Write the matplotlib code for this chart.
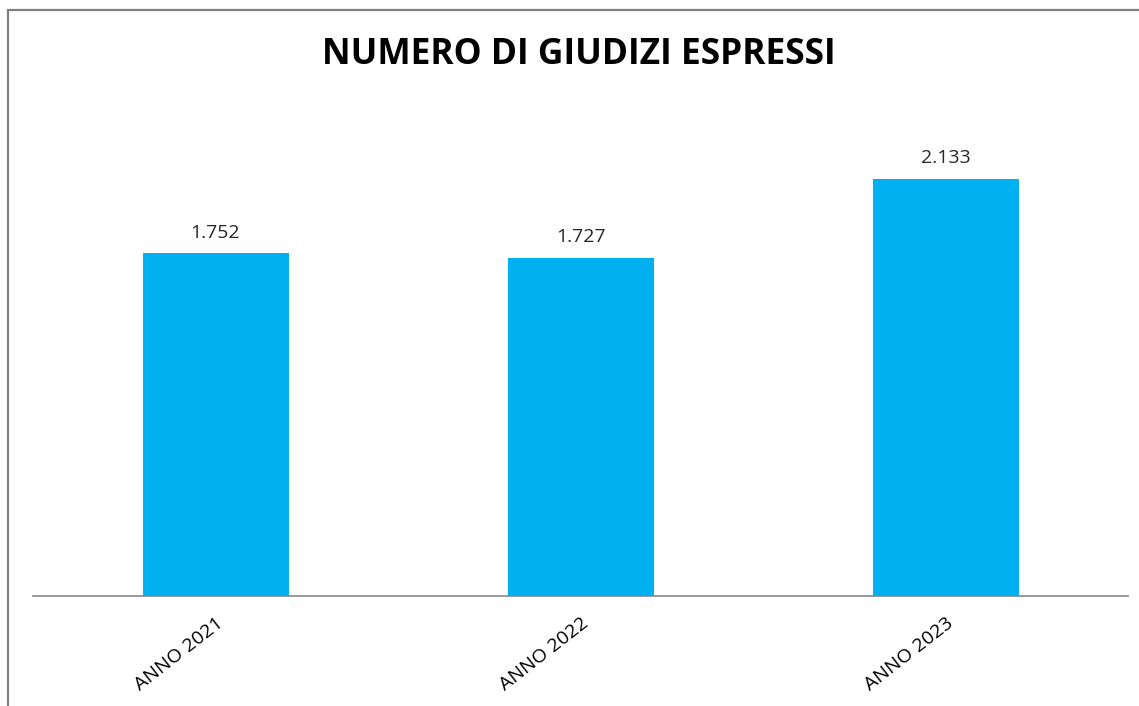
import matplotlib.pyplot as plt
from matplotlib.patches import Rectangle

anni = ['ANNO 2021', 'ANNO 2022', 'ANNO 2023']
giudizi = [1752, 1727, 2133]
etichette = ['1.752', '1.727', '2.133']

plt.rcParams['font.family'] = ['Open Sans', 'DejaVu Sans']

fig = plt.figure(figsize=(11.39, 7.06), dpi=100)
ax = fig.add_axes([33 / 1139, 110 / 706, 1095 / 1139, 489 / 706])

x = range(len(anni))
bars = ax.bar(x, giudizi, width=0.4, color='#00B0F0')
ax.set_xlim(-0.5, 2.5)
ax.set_ylim(0, 2500)

for b, t in zip(bars, etichette):
    ax.text(b.get_x() + b.get_width() / 2, b.get_height() + 60, t,
            ha='center', va='bottom', fontsize=14, color='#262626')

ax.set_xticks(list(x))
ax.set_xticklabels(anni, rotation=38, ha='right', rotation_mode='anchor',
                   fontsize=14)
ax.tick_params(axis='x', length=0, pad=13)
ax.set_yticks([])
for s in ['left', 'right', 'top']:
    ax.spines[s].set_visible(False)
ax.spines['bottom'].set_color('#868686')
ax.spines['bottom'].set_linewidth(1.2)

fig.text(579 / 1139, 1 - 55 / 706, 'NUMERO DI GIUDIZI ESPRESSI',
         ha='center', va='center', fontsize=25.5, fontweight='bold')

# cornice del grafico
fig.patches.append(Rectangle((8 / 1139, -0.1), 1.1, 1 - 10 / 706 + 0.1,
                             transform=fig.transFigure, fill=False,
                             edgecolor='#808080', linewidth=1.6))

plt.savefig('out.png', dpi=100)
